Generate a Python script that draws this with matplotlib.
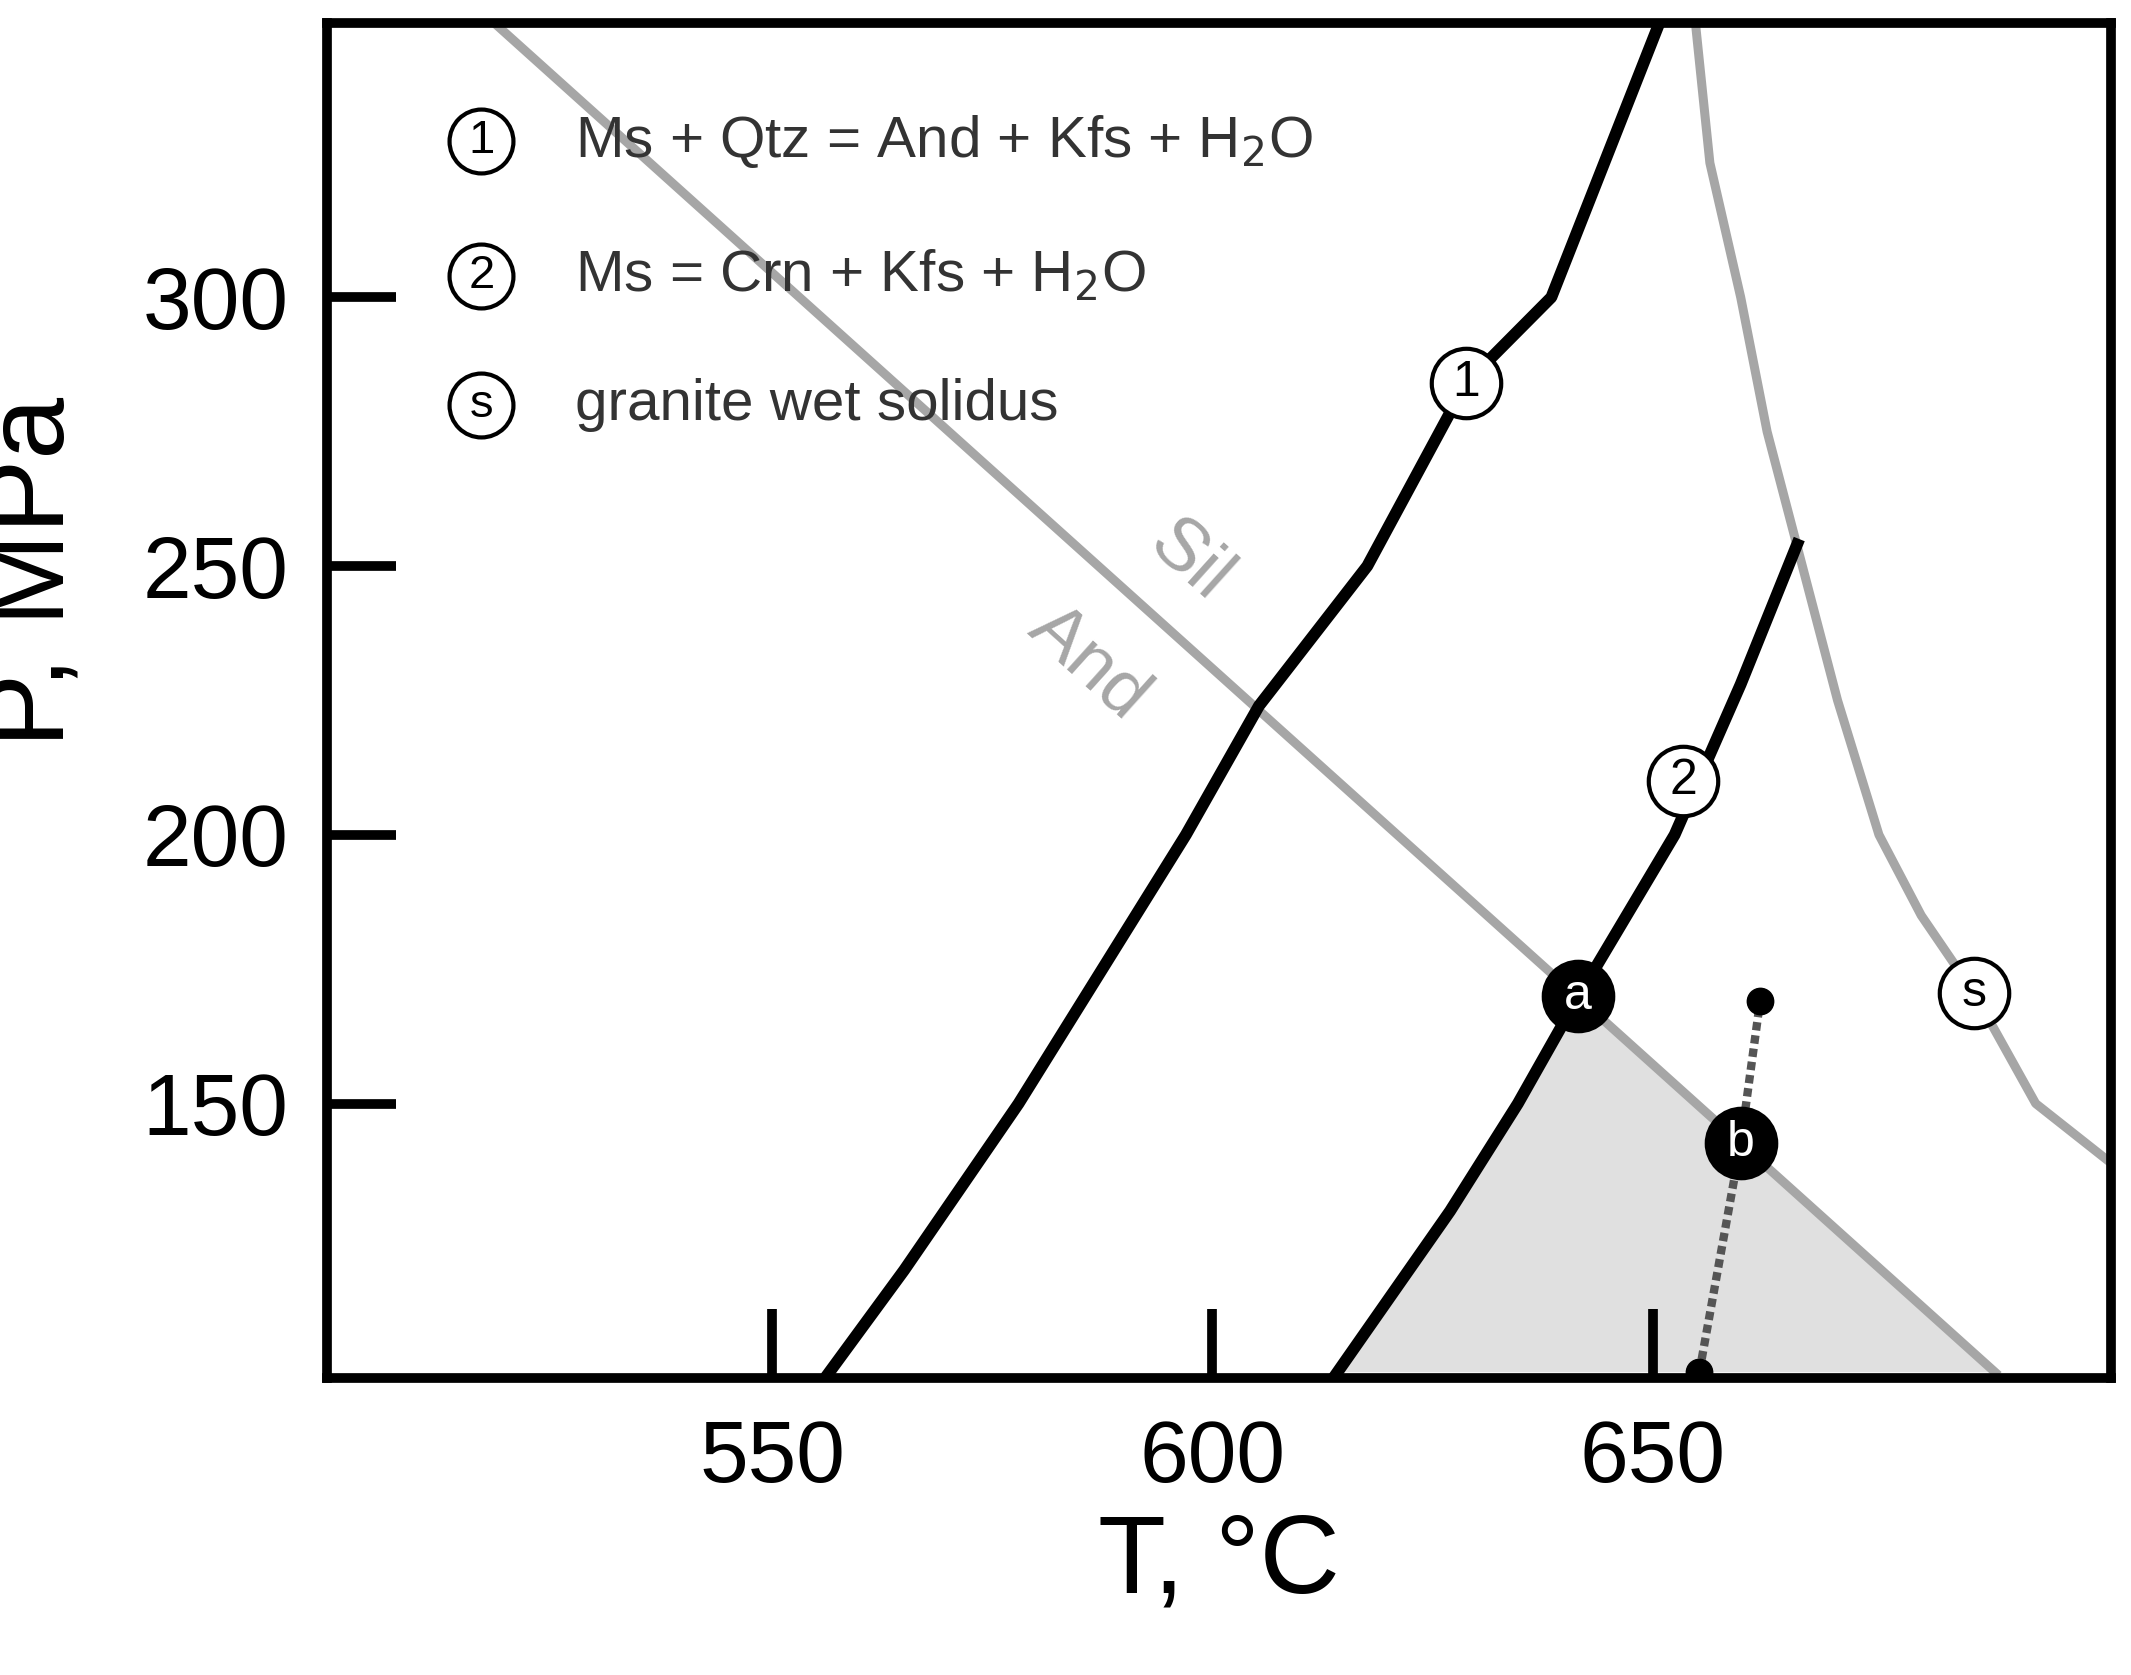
import matplotlib
matplotlib.use("Agg")
import matplotlib.pyplot as plt

plt.rcParams['font.family'] = ['Liberation Sans', 'DejaVu Sans']

# reaction curves (T in degC, P in MPa)
r1_T = [556.5, 565.0, 578.0, 597.0, 605.3, 617.6, 628.8, 638.5, 651.0]
r1_P = [100.0, 119.0, 150.0, 200.0, 224.0, 250.0, 284.0, 300.0, 352.0]
r2_T = [614.2, 627.0, 634.7, 641.6, 652.5, 660.0, 666.4]
r2_P = [100.0, 130.0, 150.0, 170.0, 200.0, 228.0, 254.0]
sil_T = [517.8, 688.9]
sil_P = [352.0, 100.0]
sol_T = [654.8, 656.5, 660.0, 663.0, 667.0, 671.0, 675.7, 680.5, 686.5, 693.5, 702.0]
sol_P = [352.0, 325.0, 300.0, 275.0, 250.0, 225.0, 200.0, 185.0, 170.6, 150.0, 139.0]
path_T = [655.3, 660.0, 662.2]
path_P = [100.0, 142.6, 169.0]
pt_a = (641.5, 170.0)
pt_b = (660.0, 142.6)

legend_text = ["Ms + Qtz = And + Kfs + H$_2$O", "Ms = Crn + Kfs + H$_2$O", "granite wet solidus"]
legend_sym = ["1", "2", "s"]
legend_P = [329.0, 304.0, 280.0]

gray = '#a6a6a6'
fig = plt.figure(figsize=(21.31, 16.75), dpi=100)
ax = fig.add_axes([0.1536, 0.1775, 0.8368, 0.8087])
ax.set_xlim(499.5, 702)
ax.set_ylim(99, 351)

# shaded field below reaction 2 and And/Sil line
poly_T = r2_T[:4] + [688.9]
poly_P = r2_P[:4] + [100.0]
ax.fill(poly_T, poly_P, color='#e0e0e0', zorder=1, lw=0)

ax.plot(sil_T, sil_P, color=gray, lw=6.5, zorder=2)
ax.plot(sol_T, sol_P, color=gray, lw=6.5, zorder=2)
ax.plot(r1_T, r1_P, color='black', lw=8.5, zorder=3, solid_joinstyle='round')
ax.plot(r2_T, r2_P, color='black', lw=8.5, zorder=3, solid_joinstyle='round')
ax.plot(path_T, path_P, color='#555555', lw=6, ls=(0, (1, 0.6)), zorder=4)
ax.plot([path_T[0], path_T[-1]], [path_P[0], path_P[-1]], 'o', color='black', ms=19, zorder=5, ls='none')

def circ(x, y, s, filled=False, size=50, fs=36):
    fc = 'black' if filled else 'white'
    tc = 'white' if filled else 'black'
    ax.plot(x, y, 'o', ms=size, mfc=fc, mec='black', mew=3, zorder=6, clip_on=False)
    ax.text(x, y, s, color=tc, fontsize=fs, ha='center', va='center', zorder=7)

circ(628.8, 284.0, "1")
circ(653.5, 210.0, "2")
circ(686.5, 170.6, "s")
circ(*pt_a, "a", filled=True)
circ(*pt_b, "b", filled=True)

for s, t, p in zip(legend_sym, legend_text, legend_P):
    circ(517.0, p, s, size=46, fs=34)
    ax.text(527.6, p, t, fontsize=42, color='#333333', va='center')

ax.text(597.5, 251.0, "Sil", color=gray, fontsize=54, rotation=-42, ha='center', va='center')
ax.text(586.0, 232.0, "And", color=gray, fontsize=54, rotation=-42, ha='center', va='center')

ax.set_xticks([550, 600, 650])
ax.set_yticks([150, 200, 250, 300])
ax.tick_params(direction='in', length=50, width=7, labelsize=63)
ax.tick_params(axis='x', pad=30)
ax.tick_params(axis='y', pad=28)
for sp in ax.spines.values():
    sp.set_linewidth(7)
ax.set_xlabel("T, °C", fontsize=80, labelpad=8)
ax.set_ylabel("P, MPa", fontsize=80, labelpad=18)
ax.yaxis.set_label_coords(-0.135, 0.595)

fig.savefig('out.png', dpi=100)
